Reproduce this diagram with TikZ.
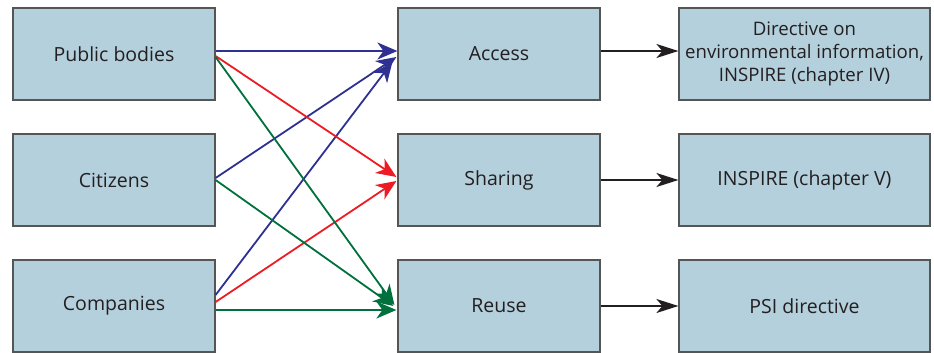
\documentclass[tikz,border=0pt]{standalone}
\usepackage{fontspec}
\setmainfont{Open Sans}
\usetikzlibrary{arrows.meta,calc}
\definecolor{boxfill}{HTML}{B4D0DC}
\definecolor{boxedge}{HTML}{555555}
\definecolor{txt}{HTML}{231F20}
\definecolor{ablue}{HTML}{2E3192}
\definecolor{ared}{HTML}{ED1C24}
\definecolor{agreen}{HTML}{00703C}
\tikzset{
  box/.style={draw=boxedge, line width=1.2pt, fill=boxfill, minimum height=92pt, inner sep=1pt,
    text=txt, font=\fontsize{19.5}{23}\selectfont, align=center},
  lbox/.style={box, minimum width=202pt},
  rbox/.style={box, minimum width=251pt},
  conn/.style={line width=1.8pt, -{Stealth[length=20pt,width=17pt,inset=6pt]}},
  blk/.style={line width=1.8pt, draw=txt, -{Stealth[length=22pt,width=14pt,inset=6pt]}}
}
\begin{document}
\begin{tikzpicture}[x=1pt,y=-1pt]
\useasboundingbox (0,0) rectangle (934,353);
\node[lbox] (pb) at (114,54) {Public bodies};
\node[lbox] (ci) at (114,180) {Citizens};
\node[lbox] (co) at (114,306) {Companies};
\node[lbox] (ac) at (499,54) {Access};
\node[lbox] (sh) at (499,180) {Sharing};
\node[lbox] (re) at (499,306) {Reuse};
\node[rbox, font=\fontsize{18.6}{23}\selectfont] (d1) at (804.5,54) {Directive on\\environmental information,\\INSPIRE (chapter IV)};
\node[rbox] (d2) at (804.5,180) {INSPIRE (chapter V)};
\node[rbox] (d3) at (804.5,306) {PSI directive};
% blue
\draw[conn, ablue] ($(pb.east)+(0,-3)$) -- ($(ac.west)+(0,-3)$);
\draw[conn, ablue] ($(ci.east)+(0,-2)$) -- ($(ac.west)+(-1,3)$);
\draw[conn, ablue] ($(co.east)+(0,-11)$) -- ($(ac.west)+(-5,8)$);
% red
\draw[conn, ared] ($(pb.east)+(0,2)$) -- ($(sh.west)+(-1,-3)$);
\draw[conn, ared] ($(co.east)+(0,-4)$) -- ($(sh.west)+(-1,1)$);
% green
\draw[conn, agreen] ($(pb.east)+(0,3)$) -- ($(re.west)+(-3,-1)$);
\draw[conn, agreen] ($(ci.east)+(0,0)$) -- ($(re.west)+(-4,0)$);
\draw[conn, agreen] ($(co.east)+(0,4)$) -- ($(re.west)+(-1,4)$);
% black
\draw[blk] ($(ac.east)+(0,-3)$) -- ($(d1.west)+(0,-3)$);
\draw[blk] (sh.east) -- (d2.west);
\draw[blk] (re.east) -- (d3.west);
\end{tikzpicture}
\end{document}
